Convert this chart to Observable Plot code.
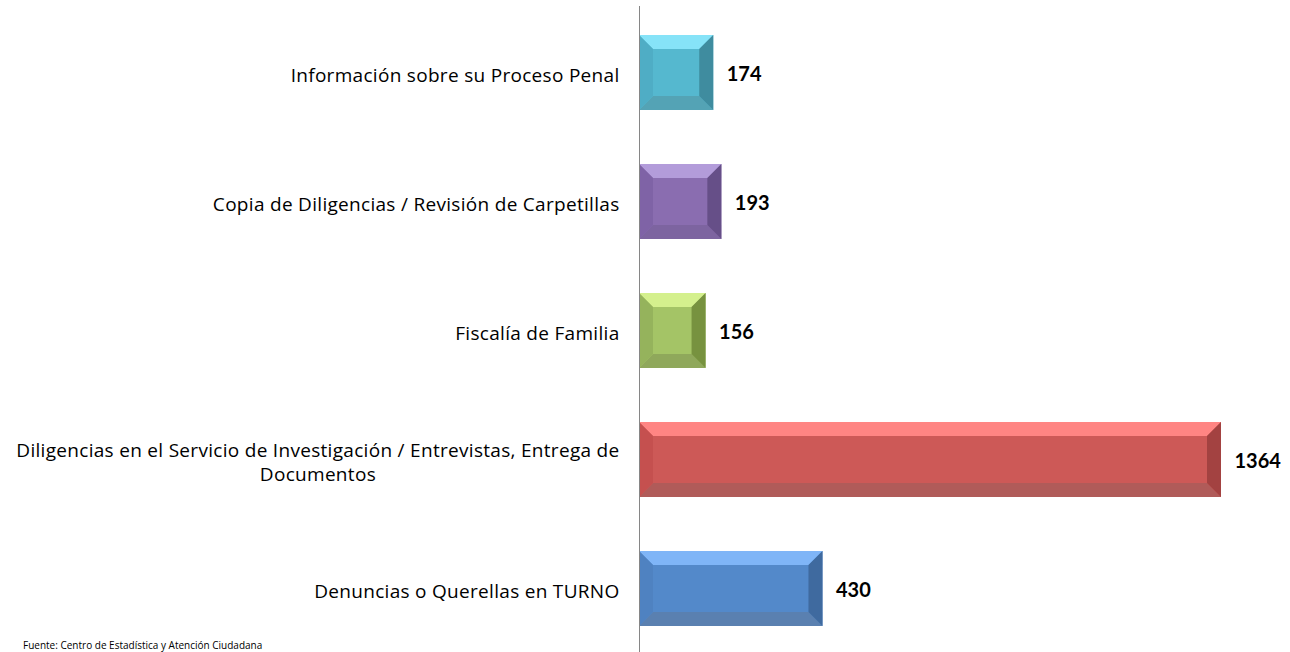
<!DOCTYPE html>
<html>
<head>
<meta charset="utf-8">
<script src="https://cdn.jsdelivr.net/npm/d3@7"></script>
<script src="https://cdn.jsdelivr.net/npm/@observablehq/plot@0.6"></script>
<style>
  html, body { margin: 0; padding: 0; background: #fff; overflow: hidden; }
  #wrap { position: relative; width: 1290px; height: 652px; }
  #caption { position: absolute; left: 23px; top: 640px; font: 10px "Open Sans", sans-serif; line-height: 11px; color: #000; white-space: nowrap; }
</style>
</head>
<body>
<div id="wrap"><div id="chart"></div><div id="caption">Fuente: Centro de Estadística y Atención Ciudadana</div></div>
<script>
const categories = [
  "Información sobre su Proceso Penal",
  "Copia de Diligencias / Revisión de Carpetillas",
  "Fiscalía de Familia",
  "Diligencias en el Servicio de Investigación / Entrevistas, Entrega de\nDocumentos",
  "Denuncias o Querellas en TURNO"
];
const values = [174, 193, 156, 1364, 430];
const mainColors   = ["#55B8CF", "#8A6DB0", "#A4C466", "#CD5957", "#5389CA"];
const topColors    = ["#86E3F8", "#B39CDA", "#D4F08D", "#FF8583", "#7FB5F7"];
const bottomColors = ["#54A3B5", "#7D64A0", "#8FA85B", "#B05B59", "#5A80B0"];
const leftColors   = ["#4FADC5", "#7F63A6", "#95B35C", "#C5504F", "#4F82C1"];
const rightColors  = ["#3F8C9F", "#664F88", "#77923F", "#A34241", "#3F6A9F"];

const data = categories.map((c, i) => ({cat: c, value: values[i]}));
const LABEL_FONT = "'Open Sans', sans-serif";
const VALUE_FONT = "Lato, 'Open Sans', sans-serif";
const LABEL_SIZE = 19;
const LABEL_LS = 0.3;
const bevel = 14;

function bevelRender(index, scales, ch, dims, context) {
  const g = d3.create("svg:g");
  const bw = scales.y.bandwidth();
  for (const i of index) {
    const xa = Math.min(ch.x1[i], ch.x2[i]), xb = Math.max(ch.x1[i], ch.x2[i]);
    const ya = ch.y[i], yb = ya + bw;
    const b = bevel;
    const polys = [
      [mainColors[i], [[xa, ya], [xb, ya], [xb, yb], [xa, yb]]],
      [topColors[i], [[xa, ya], [xb, ya], [xb - b, ya + b], [xa + b, ya + b]]],
      [bottomColors[i], [[xa, yb], [xb, yb], [xb - b, yb - b], [xa + b, yb - b]]],
      [leftColors[i], [[xa, ya], [xa + b, ya + b], [xa + b, yb - b], [xa, yb]]],
      [rightColors[i], [[xb, ya], [xb - b, ya + b], [xb - b, yb - b], [xb, yb]]]
    ];
    for (const [fill, pts] of polys) {
      g.append("polygon").attr("points", pts.map(p => p.join(",")).join(" ")).attr("fill", fill);
    }
  }
  return g.node();
}

const measureCtx = document.createElement("canvas").getContext("2d");
function centerMultiline(index, scales, ch, dims, context, next) {
  const g = next(index, scales, ch, dims, context);
  measureCtx.font = LABEL_SIZE + "px 'Open Sans'";
  d3.select(g).selectAll("text").each(function() {
    this.setAttribute("letter-spacing", LABEL_LS);
    const tspans = this.querySelectorAll("tspan");
    if (tspans.length > 1) {
      let W = 0;
      tspans.forEach(t => {
        const s = t.textContent;
        W = Math.max(W, measureCtx.measureText(s).width + s.length * LABEL_LS);
      });
      this.setAttribute("text-anchor", "middle");
      tspans.forEach(t => t.setAttribute("x", -W / 2));
    }
  });
  return g;
}

const chart = Plot.plot({
  width: 1290,
  height: 655,
  marginLeft: 639,
  marginRight: 69,
  marginTop: 6,
  marginBottom: 0,
  style: {fontFamily: LABEL_FONT, background: "#fff"},
  x: {domain: [0, 1364], axis: null},
  y: {domain: categories, paddingInner: 0.42, paddingOuter: 0.21, axis: null},
  marks: [
    Plot.barX(data, {x: "value", y: "cat", render: bevelRender}),
    Plot.ruleX([0], {stroke: "#868686", strokeWidth: 1}),
    Plot.text(data, {x: 0, y: "cat", text: "cat", textAnchor: "end", dx: -20, dy: 1, fontSize: LABEL_SIZE, fontFamily: LABEL_FONT, lineHeight: 24 / LABEL_SIZE, fill: "#000", render: centerMultiline}),
    Plot.text(data, {x: "value", y: "cat", text: d => String(d.value), textAnchor: "start", dx: 13, dy: 2, fontSize: 20, fontWeight: "bold", fontFamily: VALUE_FONT, fill: "#000"})
  ]
});
document.getElementById("chart").appendChild(chart);
</script>
</body>
</html>
